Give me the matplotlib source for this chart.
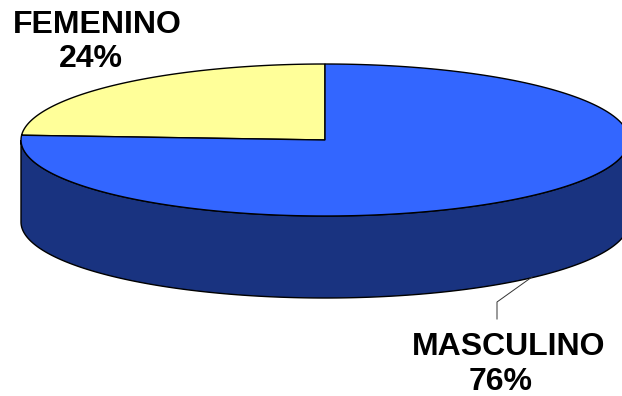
import numpy as np
import matplotlib
matplotlib.use('Agg')
import matplotlib.pyplot as plt

labels = ['FEMENINO', 'MASCULINO']
values = [24, 76]
top_colors = ['#FFFF99', '#3366FF']
side_color = '#193380'

# pie geometry, in pixels
cx, cy = 325, 140
rx, ry = 304, 76
depth = 82


def ellipse(a0, a1, n=200):
    t = np.radians(np.linspace(a0, a1, n))
    return cx + rx * np.cos(t), cy - ry * np.sin(t)


fig = plt.figure(figsize=(6.22, 3.96), dpi=100)
ax = fig.add_axes([0, 0, 1, 1])
ax.set_xlim(0, 622)
ax.set_ylim(396, 0)
ax.axis('off')

# side wall (front half of the rim only)
x, y = ellipse(180, 360)
ax.fill(np.r_[x, x[::-1]], np.r_[y, y[::-1] + depth], facecolor=side_color,
        edgecolor='black', linewidth=1.0, zorder=1)

# top slices, going counterclockwise from 12 o'clock
start = 90
for value, color in zip(values, top_colors):
    end = start + value / sum(values) * 360
    x, y = ellipse(start, end)
    ax.fill(np.r_[cx, x], np.r_[cy, y], facecolor=color,
            edgecolor='black', linewidth=1.0, zorder=2)
    start = end

# leader line for the lower label
ax.plot([497, 497, 532], [319, 302, 277], color='#333333', linewidth=0.7, zorder=3)

font = dict(family='Liberation Sans', fontsize=23, fontweight='bold', ha='center', va='center')
ax.text(97, 25, labels[0], **font)
ax.text(91, 59, f'{values[0]}%', **font)
ax.text(509, 347, labels[1], **font)
ax.text(501, 382, f'{values[1]}%', **font)

fig.savefig('out.png', dpi=100)
